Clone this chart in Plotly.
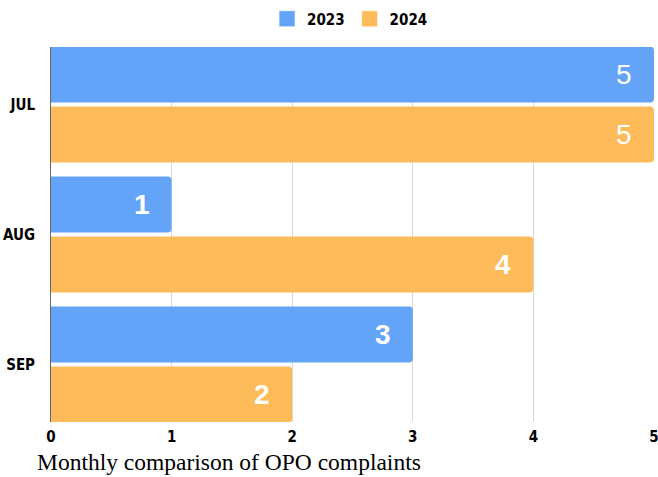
import plotly.graph_objects as go

months = ["Jul", "Aug", "Sep"]
tick_labels = ["JUL", "AUG", "SEP"]
values_2023 = [5, 1, 3]
values_2024 = [5, 4, 2]
weights_2023 = ["normal", "bold", "bold"]
weights_2024 = ["normal", "bold", "bold"]
x_ticks = [0, 1, 2, 3, 4, 5]

label_font = "DejaVu Sans Condensed, Liberation Sans Narrow, Arial Narrow, sans-serif"
val_font = "Liberation Sans, Arial, sans-serif"
colors = {"2023": "#63a4f8", "2024": "#febb5a"}

fig = go.Figure()
for name, vals in (("2023", values_2023), ("2024", values_2024)):
    fig.add_trace(go.Bar(
        y=months, x=vals, orientation="h", name=name, showlegend=False,
        legendgroup=name,
        marker=dict(color=colors[name], line=dict(width=0)),
    ))
# legend-only entries with larger square swatches
for name in ("2023", "2024"):
    fig.add_trace(go.Scatter(
        x=[None], y=[None], mode="markers", name=name, legendgroup=name,
        marker=dict(symbol="square", size=20, color=colors[name],
                    line=dict(width=1, color="rgba(255,255,255,0.6)")),
        hoverinfo="skip",
    ))

annotations = []
for vals, weights, yshift in ((values_2023, weights_2023, 30), (values_2024, weights_2024, -30)):
    for m, v, w in zip(months, vals, weights):
        annotations.append(dict(
            x=v, y=m, xref="x", yref="y", text=str(v), showarrow=False,
            xanchor="center", yanchor="middle", xshift=-30, yshift=yshift,
            font=dict(family=val_font, size=28, color="white", weight=w),
        ))

fig.update_layout(
    width=658, height=477,
    margin=dict(l=51, r=4, t=47, b=55, autoexpand=False),
    paper_bgcolor="white", plot_bgcolor="white",
    barmode="group", bargap=0.077, bargroupgap=0.067,
    barcornerradius=4,
    showlegend=True,
    legend=dict(orientation="h", x=0.532, xanchor="center", xref="container",
                y=1 - 19/477, yanchor="middle", yref="container",
                font=dict(family=label_font, size=15, color="black", weight="bold"),
                traceorder="normal", itemsizing="trace", itemwidth=30),
    title=dict(text="Monthly comparison of OPO complaints", x=37/658, xanchor="left",
               xref="container", yref="container", y=15/477, yanchor="middle",
               font=dict(family="Liberation Serif, Times New Roman, serif", size=23.5, color="black")),
    xaxis=dict(range=[0, 5], tickvals=x_ticks, showgrid=True, gridcolor="#d9d9d9",
               zeroline=False, showline=False, ticks="", automargin=False,
               ticklabelstandoff=4, ticklabeloverflow="allow",
               tickfont=dict(family=label_font, size=15, color="black", weight="bold")),
    yaxis=dict(autorange=False, range=[2.4423, -0.4423], tickvals=months, ticktext=tick_labels,
               automargin=False, showline=True, linecolor="#666666", linewidth=1,
               layer="below traces", ticks="", showgrid=False, ticklabelstandoff=12,
               tickfont=dict(family=label_font, size=15, color="black", weight="bold")),
    annotations=annotations,
)

fig.write_html(
    "out.html",
    config={"displayModeBar": False},
    post_script="document.body.style.margin='0';document.body.style.overflow='hidden';",
)
